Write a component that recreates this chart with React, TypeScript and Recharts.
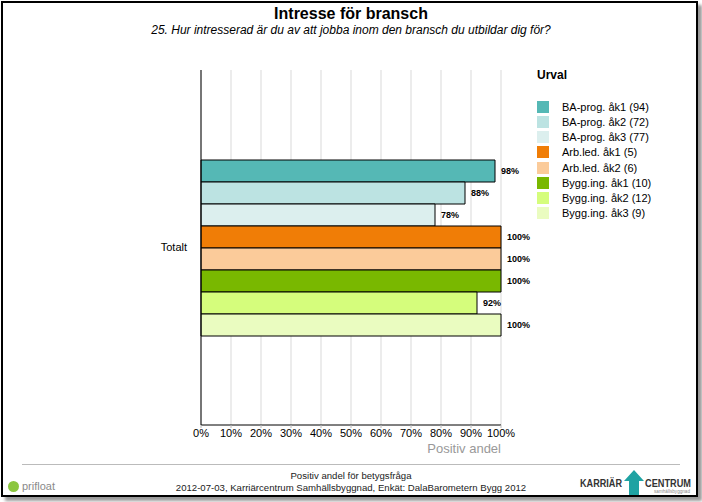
import { BarChart, Bar, XAxis, YAxis, CartesianGrid, LabelList } from "recharts";

const categories = ["Totalt"];
const seriesNames = [
  "BA-prog. åk1 (94)",
  "BA-prog. åk2 (72)",
  "BA-prog. åk3 (77)",
  "Arb.led. åk1 (5)",
  "Arb.led. åk2 (6)",
  "Bygg.ing. åk1 (10)",
  "Bygg.ing. åk2 (12)",
  "Bygg.ing. åk3 (9)",
];
const seriesValues = [98, 88, 78, 100, 100, 100, 92, 100];
const seriesColors = [
  "#55b8b5",
  "#bce3e2",
  "#dcefee",
  "#f07d06",
  "#fbcb9a",
  "#79b800",
  "#d5fd7c",
  "#eafcc0",
];
const xTicks = [0, 10, 20, 30, 40, 50, 60, 70, 80, 90, 100];

const data = categories.map((name) => {
  const row: Record<string, string | number> = { name };
  seriesValues.forEach((v, i) => {
    row["s" + i] = v;
  });
  return row;
});

const FONT = "'Liberation Sans', Arial, sans-serif";

const UrvalLegend = () => (
  <div style={{ position: "absolute", left: 537, top: 68, fontFamily: FONT, color: "#000" }}>
    <div style={{ fontWeight: "bold", fontSize: 12, height: 31 }}>Urval</div>
    {seriesNames.map((n, i) => (
      <div key={n} style={{ display: "flex", alignItems: "center", height: 15.25, fontSize: 11, whiteSpace: "nowrap" }}>
        <span style={{ width: 12, height: 12, background: seriesColors[i], display: "inline-block", marginRight: 13 }} />
        {n}
      </div>
    ))}
  </div>
);

export default function App() {
  return (
    <div style={{ position: "absolute", left: 0, top: 0, width: 702, height: 502, background: "#fff", fontFamily: FONT }}>
      <div
        style={{
          position: "absolute",
          left: 1,
          top: 1,
          width: 693,
          height: 492,
          border: "2px solid #000",
          boxShadow: "4px 4px 3px #999",
          background: "#fff",
        }}
      />
      <div style={{ position: "absolute", left: 0, width: 702, top: 5, textAlign: "center", fontWeight: "bold", fontSize: 16 }}>
        Intresse för bransch
      </div>
      <div style={{ position: "absolute", left: 0, width: 702, top: 23, textAlign: "center", fontStyle: "italic", fontSize: 12 }}>
        25. Hur intresserad är du av att jobba inom den bransch du utbildar dig för?
      </div>
      <div style={{ position: "absolute", left: 0, top: 0 }}>
        <BarChart
          width={702}
          height={502}
          data={data}
          layout="vertical"
          margin={{ top: 70, right: 201, bottom: 47, left: 101 }}
          barSize={22}
          barGap={0}
        >
          <CartesianGrid horizontal={false} stroke="#d9d9d9" />
          <XAxis
            type="number"
            domain={[0, 100]}
            ticks={xTicks}
            tickFormatter={(v) => v + "%"}
            interval={0}
            height={30}
            stroke="#000"
            tick={{ fill: "#000", fontSize: 11, fontFamily: FONT }}
            tickLine={{ stroke: "#bbb" }}
            tickSize={3}
            tickMargin={1}
          />
          <YAxis
            type="category"
            dataKey="name"
            width={100}
            stroke="#000"
            tickLine={false}
            tickMargin={8}
            tick={{ fill: "#000", fontSize: 11, fontFamily: FONT }}
          />
          {seriesNames.map((n, i) => (
            <Bar
              key={n}
              dataKey={"s" + i}
              name={n}
              fill={seriesColors[i]}
              stroke="#000"
              strokeWidth={1}
              isAnimationActive={false}
            >
              <LabelList
                dataKey={"s" + i}
                position="right"
                offset={6}
                formatter={(v: any) => v + "%"}
                style={{ fill: "#000", fontSize: 9, fontWeight: "bold", fontFamily: FONT }}
              />
            </Bar>
          ))}
        </BarChart>
      </div>
      <UrvalLegend />
      <div style={{ position: "absolute", left: 425, top: 441, width: 76, textAlign: "right", fontSize: 13, color: "#999" }}>
        Positiv andel
      </div>
      <div style={{ position: "absolute", left: 22, top: 464, width: 658, height: 1, background: "#bbb" }} />
      <div style={{ position: "absolute", left: 0, width: 702, top: 470, textAlign: "center", fontSize: 9.6, color: "#222", lineHeight: "12px" }}>
        <div>Positiv andel för betygsfråga</div>
        <div>2012-07-03, Karriärcentrum Samhällsbyggnad, Enkät: DalaBarometern Bygg 2012</div>
      </div>
      <div style={{ position: "absolute", left: 8, top: 480, display: "flex", alignItems: "center", fontSize: 11, color: "#8a8a8a" }}>
        <span style={{ width: 11, height: 11, borderRadius: 6, background: "#8cc63f", display: "inline-block", marginRight: 3 }} />
        prifloat
      </div>
      <div style={{ position: "absolute", left: 578, top: 466, width: 116, height: 29 }}>
        <svg width={116} height={29} style={{ overflow: "visible" }}>
          <polygon points="51,29 51,15 46,15 56,4 66,15 61,15 61,29" fill="#1fa3a3" />
          <text x={2} y={21} fontSize={10} fontWeight="bold" fill="#333" fontFamily={FONT} textLength={42} lengthAdjust="spacingAndGlyphs">KARRIÄR</text>
          <text x={67} y={21} fontSize={10} fontWeight="bold" fill="#333" fontFamily={FONT} textLength={46} lengthAdjust="spacingAndGlyphs">CENTRUM</text>
          <text x={76} y={27} fontSize={5} fill="#888" fontFamily={FONT} textLength={36} lengthAdjust="spacingAndGlyphs">samhällsbyggnad</text>
        </svg>
      </div>
    </div>
  );
}
